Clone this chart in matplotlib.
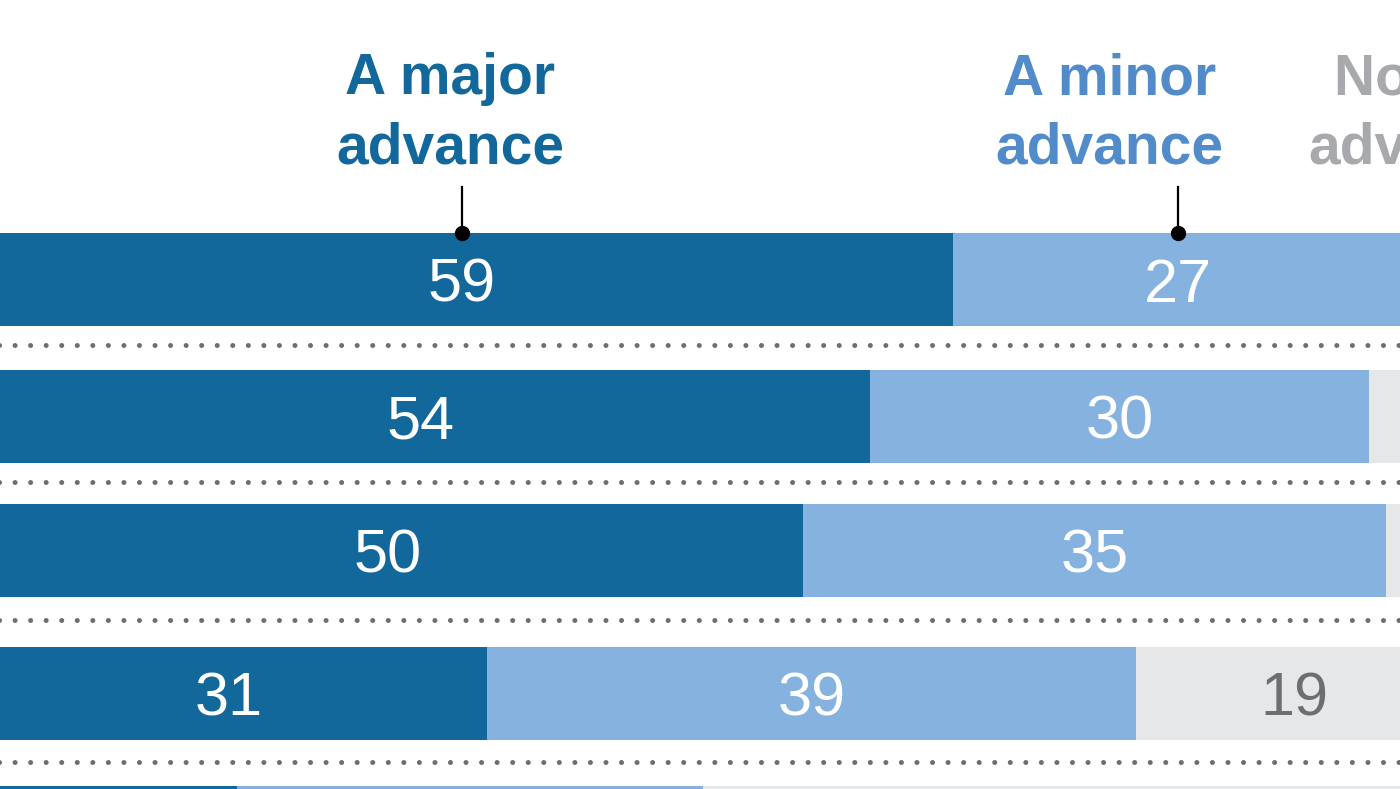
import matplotlib
matplotlib.use("Agg")
import matplotlib.pyplot as plt
import numpy as np

# -------------------------------------------------
# DATA (cropped chart: only part of it is visible)
# -------------------------------------------------
major = [59, 54, 50, 31, 16]
minor = [27, 30, 35, 39, 28]
no_adv = [13, 15, 14, 19, 52]

headers = ["A major\nadvance", "A minor\nadvance", "Not an\nadvance"]

# -------------------------------------------------
# LAYOUT
# -------------------------------------------------
W, H = 1400, 789
row_y = [279.5, 416.5, 550.5, 693.5, 832.5]   # row centres in pixels (y down)
bar_h = 93
sep_y = [345, 482, 620, 762]
header_x = [28.8, 68.4, 87.2]                 # header centres in data units

c_major = "#12679b"
c_minor = "#86b2df"
c_none = "#e6e7e8"
head_cols = ["#12679b", "#518bc9", "#a7a9ac"]
dot_col = "#6d6e71"

fig = plt.figure(figsize=(W / 100, H / 100), dpi=100)
ax = fig.add_axes([0, 0, 1, 1])
x_lo, x_hi = 28.8 / 16.64, (W + 28.8) / 16.64
ax.set_xlim(x_lo, x_hi)
ax.set_ylim(H, 0)
ax.axis("off")

major = np.array(major)
minor = np.array(minor)
no_adv = np.array(no_adv)

ax.barh(row_y, major, height=bar_h, color=c_major, linewidth=0)
ax.barh(row_y, minor, left=major, height=bar_h, color=c_minor, linewidth=0)
ax.barh(row_y, no_adv, left=major + minor, height=bar_h, color=c_none, linewidth=0)

# dotted separators
for y in sep_y:
    ax.plot([-5, 100], [y, y], color=dot_col, lw=3.6,
            linestyle=(0, (0.01, 3.1)), dash_capstyle="round")

# value labels (only those whose centre falls inside the visible crop)
num_font = dict(family="Liberation Sans", fontsize=44, ha="center", va="center_baseline")
for i, y in enumerate(row_y):
    segs = [(major[i] / 2, major[i], "white"),
            (major[i] + minor[i] / 2, minor[i], "white"),
            (major[i] + minor[i] + no_adv[i] / 2, no_adv[i], dot_col)]
    for cx, v, col in segs:
        if cx < x_hi - 2 and y < H:
            ax.text(cx, y, str(v), color=col, **num_font)

# headers
for x, txt, col in zip(header_x, headers, head_cols):
    ax.text(x, 114, txt, color=col, family="Liberation Sans", fontweight="bold",
            fontsize=41, ha="center", va="center", linespacing=1.36, clip_on=False)

# leader lines pointing to first row
lead_x = [major[0] / 2, major[0] + minor[0] / 2]
top = row_y[0] - bar_h / 2
for x in lead_x:
    ax.plot([x, x], [187, top], color="black", lw=1.6)
    ax.plot(x, top, "o", color="black", markersize=10)

fig.savefig("out.png", dpi=100)
